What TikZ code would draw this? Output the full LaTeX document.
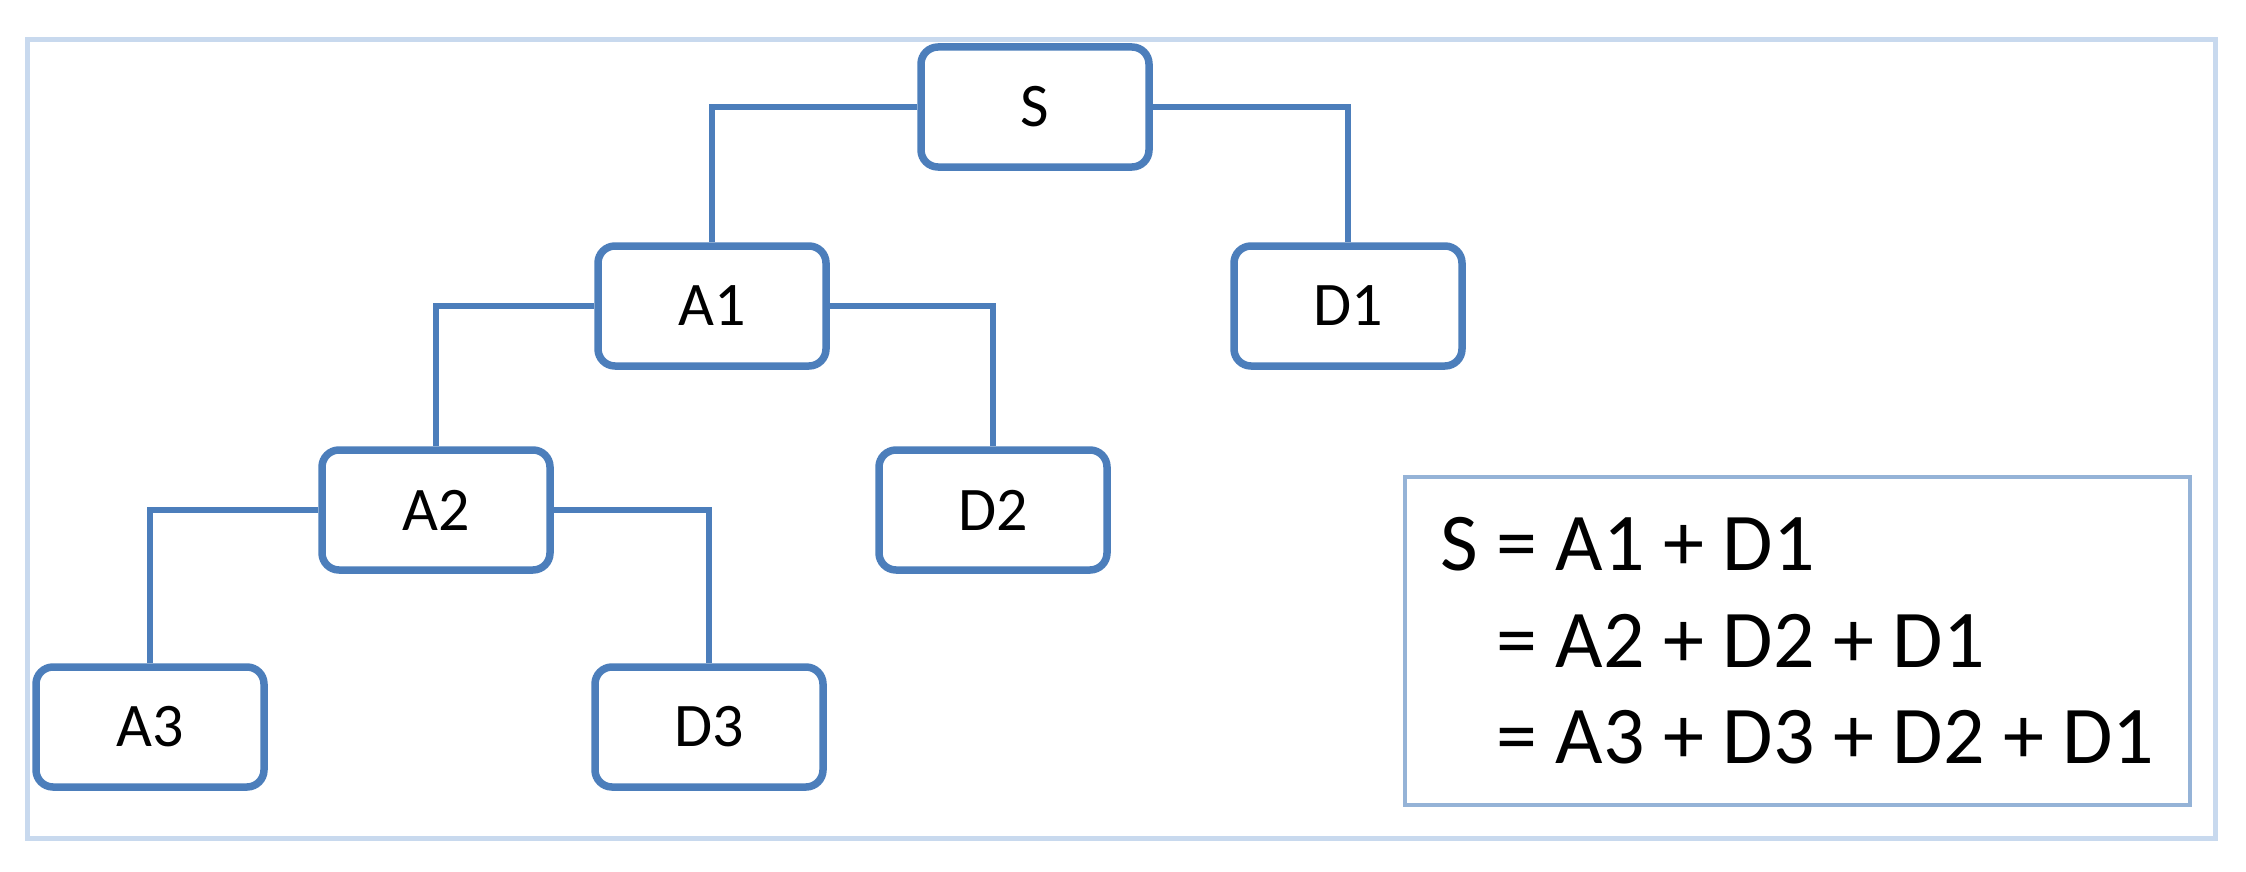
\documentclass[tikz,border=0pt]{standalone}
\usepackage{fontspec}
\setmainfont{Carlito}
\definecolor{nodeblue}{RGB}{76,126,187}
\definecolor{framebl}{RGB}{200,217,238}
\definecolor{eqbl}{RGB}{149,179,215}
\begin{document}
\begin{tikzpicture}[x=1pt,y=-1pt,
  treebox/.style={draw=nodeblue, line width=7.5pt, rounded corners=17pt, fill=white,
    minimum width=228pt, minimum height=120pt, inner sep=0pt,
    font=\fontsize{62}{70}\selectfont},
  conn/.style={draw=nodeblue, line width=6pt},
  eqline/.style={anchor=base west, inner sep=0pt, font=\fontsize{82}{97}\selectfont}]
\useasboundingbox (0,0) rectangle (2246,872);
\fill[white] (0,0) rectangle (2246,872);
\node[draw=framebl, line width=5pt, minimum width=2188pt, minimum height=798pt, inner sep=0pt] (frame) at (1121,439) {};
\node[treebox] (S) at (1035,107) {S};
\node[treebox] (A1) at (712,306) {A1};
\node[treebox] (D1) at (1348,306) {D1};
\node[treebox] (A2) at (436,510) {A2};
\node[treebox] (D2) at (993,510) {D2};
\node[treebox] (A3) at (150,727) {A3};
\node[treebox] (D3) at (709,727) {D3};
\draw[conn] (S.west) -| (A1.north);
\draw[conn] (S.east) -| (D1.north);
\draw[conn] (A1.west) -| (A2.north);
\draw[conn] (A1.east) -| (D2.north);
\draw[conn] (A2.west) -| (A3.north);
\draw[conn] (A2.east) -| (D3.north);
\node[draw=eqbl, line width=4pt, minimum width=785pt, minimum height=328pt, inner sep=0pt] (eqbox) at (1797,641) {};
\node[eqline] (eq1) at (1440,570) {S = A1 + D1};
\node[eqline] (eq2) at (1440,667) {\hphantom{S }= A2 + D2 + D1};
\node[eqline] (eq3) at (1440,763) {\hphantom{S }= A3 + D3 + D2 + D1};
\end{tikzpicture}
\end{document}
